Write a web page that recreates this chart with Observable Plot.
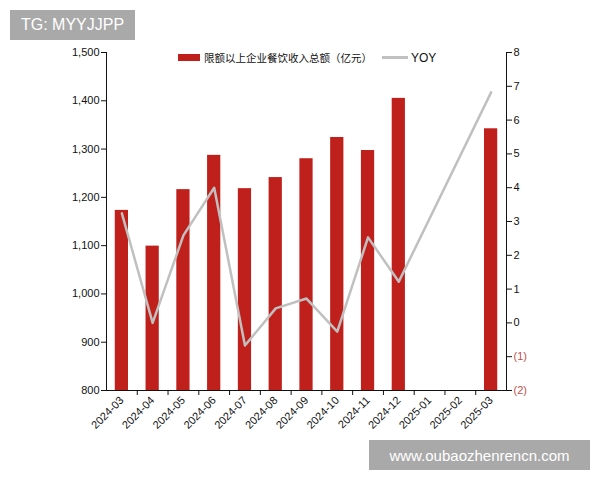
<!DOCTYPE html>
<html>
<head>
<meta charset="utf-8">
<script src="https://cdn.jsdelivr.net/npm/d3@7"></script>
<script src="https://cdn.jsdelivr.net/npm/@observablehq/plot@0.6"></script>
<style>
  body { margin: 0; background: #fff; }
  #wrap { position: relative; width: 600px; height: 480px; font-family: "Liberation Sans", Arial, sans-serif; }
  .wm { position: absolute; background: #a9a9a9; color: #fff; display: flex; align-items: center; justify-content: center; }
  #legend { position: absolute; left: 178px; top: 50px; display: flex; align-items: center; font-size: 10.5px; color: #111; }
  .sw { display: inline-block; width: 22px; height: 7px; background: #c0201b; margin-right: 4px; }
  .ln { display: inline-block; width: 26px; height: 2.5px; background: #c0c0c0; margin: 0 3px 0 10px; }
</style>
</head>
<body>
<div id="wrap">
  <div id="chart"></div>
  <div id="legend"><span class="sw"></span><span style="font-family:'Noto Sans CJK SC',sans-serif">限额以上企业餐饮收入总额（亿元）</span><span class="ln"></span><span style="font-size:12px">YOY</span></div>
  <div class="wm" style="left:10px;top:10px;width:125px;height:30px;font-size:16px;">TG: MYYJJPP</div>
  <div class="wm" style="left:369px;top:440px;width:221px;height:30px;font-size:15px;">www.oubaozhenrencn.com</div>
</div>
<script>
const months = ["2024-03","2024-04","2024-05","2024-06","2024-07","2024-08","2024-09","2024-10","2024-11","2024-12","2025-01","2025-02","2025-03"];
const revenue = [1173, 1099, 1216, 1287, 1218, 1241, 1280, 1324, 1297, 1405, null, null, 1342];
const yoy = [3.24, 0.0, 2.59, 4.0, -0.67, 0.43, 0.72, -0.26, 2.53, 1.22, null, null, 6.82];
const leftTicks = [800, 900, 1000, 1100, 1200, 1300, 1400, 1500];
const rightTicks = [-2, -1, 0, 1, 2, 3, 4, 5, 6, 7, 8];

const toLeft = v => 800 + (v + 2) * 70;
const barData = months.map((m, i) => ({m, v: revenue[i]})).filter(d => d.v != null);
const lineData = months.map((m, i) => ({m, v: yoy[i]})).filter(d => d.v != null);
const fmtR = v => v < 0 ? `(${-v})` : `${v}`;
const half = 400 / 13 / 2;

const chart = Plot.plot({
  width: 600,
  height: 480,
  marginLeft: 106,
  marginRight: 94,
  marginTop: 52,
  marginBottom: 90,
  style: {fontFamily: "Liberation Sans, Arial, sans-serif", fontSize: "11px", color: "#111", background: "transparent"},
  x: {type: "band", domain: months, paddingInner: 0.57, paddingOuter: 0.285, round: false, label: null},
  y: {domain: [800, 1500], label: null},
  marks: [
    Plot.barY(barData, {x: "m", y1: 800, y2: "v", fill: "#c0201b"}),
    Plot.line(lineData, {x: "m", y: d => toLeft(d.v), stroke: "#c0c0c0", strokeWidth: 2.5}),
    Plot.frame({anchor: "left", stroke: "#111"}),
    Plot.frame({anchor: "right", stroke: "#111"}),
    Plot.frame({anchor: "bottom", stroke: "#111"}),
    Plot.axisY({ticks: leftTicks, tickFormat: d3.format(","), tickSize: 5, tickPadding: 2, label: null}),
    Plot.axisY({anchor: "right", ticks: rightTicks.filter(v => v >= 0).map(toLeft), tickFormat: v => fmtR(Math.round((v - 800) / 70 - 2)), tickSize: 5, tickPadding: 2, label: null}),
    Plot.axisY({anchor: "right", ticks: rightTicks.filter(v => v < 0).map(toLeft), tickFormat: v => fmtR(Math.round((v - 800) / 70 - 2)), tickSize: 5, tickPadding: 2, stroke: "#111", fill: "#c0504d", label: null}),
    Plot.axisX({ticks: months.slice(1), tickSize: 5, tickFormat: () => "", dx: -half, label: null}),
    Plot.axisX({tickSize: 0, tickRotate: -45, tickPadding: 8, label: null})
  ]
});
document.getElementById("chart").appendChild(chart);
</script>
</body>
</html>
